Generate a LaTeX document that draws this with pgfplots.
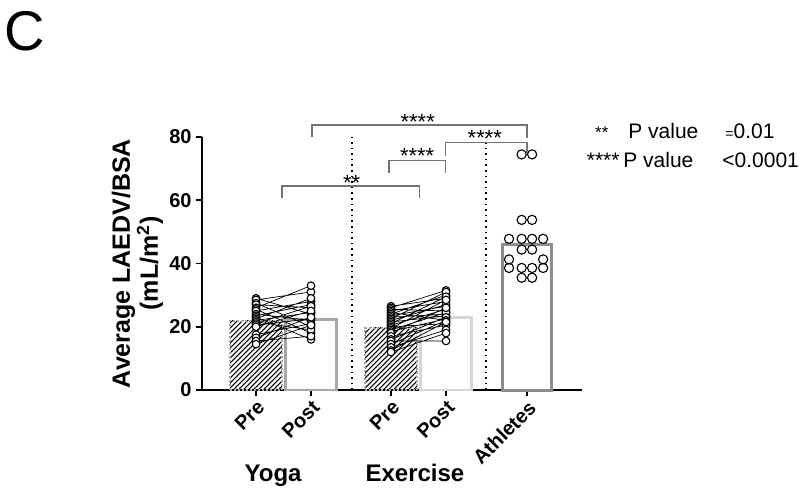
\documentclass[border=0pt]{standalone}
\usepackage{fontspec}
\setmainfont{Liberation Sans}
\usepackage{pgfplots}
\pgfplotsset{compat=1.18}
\definecolor{brk}{gray}{0.45}
\definecolor{ypost}{gray}{0.66}
\definecolor{epost}{gray}{0.84}
\definecolor{athl}{gray}{0.55}
\definecolor{hatchb}{gray}{0.65}
\begin{document}
\begin{tikzpicture}
\useasboundingbox (-101pt,-52pt) rectangle (299pt,195pt);
\begin{axis}[
  scale only axis, width=190pt, height=126.5pt,
  xmin=0.018, xmax=6.927, ymin=0, ymax=80,
  clip=false,
  axis lines*=left, axis line style={-, line width=1pt, black},
  tick align=outside, major tick length=3pt,
  tick style={black, line width=0.9pt},
  xtick={1,2,3.4545,4.4545,5.927},
  xticklabels={Pre,Post,Pre,Post,Athletes},
  ytick={0,20,40,60,80},
  /pgf/number format/assume math mode=true,
  xticklabel style={rotate=45, anchor=north east, font=\bfseries\fontsize{10}{11}\selectfont, inner sep=1pt},
  yticklabel style={font=\bfseries\fontsize{10}{11}\selectfont, inner sep=2pt},
  ylabel={Average LAEDV/BSA\\(mL/m\textsuperscript{2})},
  ylabel style={at={(axis description cs:-0.17,0.5)}, anchor=center, align=center, font=\bfseries\fontsize{12.5}{14}\selectfont},
]
% hatched bars (Pre)
\begin{scope}
\clip (axis cs:0.53,0) rectangle (axis cs:1.47,21.9);
\pgfplotsinvokeforeach{0,...,26}{\draw[line width=0.5pt, black] ([xshift=#1*2.5pt-36pt]axis cs:0.53,0) -- ++(48pt,48pt);}
\end{scope}
\begin{scope}
\clip (axis cs:2.9845,0) rectangle (axis cs:3.9245,19.7);
\pgfplotsinvokeforeach{0,...,26}{\draw[line width=0.5pt, black] ([xshift=#1*2.5pt-36pt]axis cs:2.9845,0) -- ++(48pt,48pt);}
\end{scope}
\addplot[ybar, bar width=0.94, bar shift=0pt, draw=hatchb, densely dotted, line width=1pt, fill=none]
  coordinates {(1,21.9)};
\addplot[ybar, bar width=0.94, bar shift=0pt, draw=ypost, fill=white, line width=1.4pt]
  coordinates {(2,22.4)};
\addplot[ybar, bar width=0.94, bar shift=0pt, draw=hatchb, densely dotted, line width=1pt, fill=none]
  coordinates {(3.4545,19.7)};
\addplot[ybar, bar width=0.94, bar shift=0pt, draw=epost, fill=white, line width=1.4pt]
  coordinates {(4.4545,23)};
\addplot[ybar, bar width=0.9, bar shift=0pt, draw=athl, fill=white, line width=1.5pt]
  coordinates {(5.927,46)};
% dotted separators
\addplot[black, dotted, line width=0.8pt] coordinates {(2.74,0) (2.74,80)};
\addplot[black, dotted, line width=0.8pt] coordinates {(5.18,0) (5.18,80)};
% yoga pairs
\addplot[black, line width=0.35pt, unbounded coords=jump, mark=*, mark size=1.9pt,
  mark options={fill=white, draw=black, line width=0.55pt, solid}]
  coordinates {
  (1,29)(2,24) (nan,nan)
  (1,28.5)(2,31) (nan,nan)
  (1,27.5)(2,20) (nan,nan)
  (1,27)(2,26) (nan,nan)
  (1,26)(2,33) (nan,nan)
  (1,25.5)(2,18) (nan,nan)
  (1,25)(2,28) (nan,nan)
  (1,24)(2,22) (nan,nan)
  (1,23.5)(2,27) (nan,nan)
  (1,23)(2,16) (nan,nan)
  (1,22.5)(2,29) (nan,nan)
  (1,22)(2,24.5) (nan,nan)
  (1,21.5)(2,19) (nan,nan)
  (1,21)(2,26.5) (nan,nan)
  (1,20.5)(2,22.5) (nan,nan)
  (1,20)(2,25) (nan,nan)
  (1,17.5)(2,21) (nan,nan)
  (1,16.5)(2,23) (nan,nan)
  (1,15.5)(2,17) (nan,nan)
  (1,14.5)(2,20.5)
  };
% exercise pairs
\addplot[black, line width=0.35pt, unbounded coords=jump, mark=*, mark size=1.9pt,
  mark options={fill=white, draw=black, line width=0.55pt, solid}]
  coordinates {
  (3.4545,26.5)(4.4545,29) (nan,nan)
  (3.4545,26)(4.4545,31.5) (nan,nan)
  (3.4545,25.5)(4.4545,25) (nan,nan)
  (3.4545,25)(4.4545,28) (nan,nan)
  (3.4545,24.5)(4.4545,22) (nan,nan)
  (3.4545,24)(4.4545,30) (nan,nan)
  (3.4545,23.5)(4.4545,26.5) (nan,nan)
  (3.4545,23)(4.4545,24) (nan,nan)
  (3.4545,22.5)(4.4545,31) (nan,nan)
  (3.4545,22)(4.4545,27) (nan,nan)
  (3.4545,21.5)(4.4545,23.5) (nan,nan)
  (3.4545,21)(4.4545,29.5) (nan,nan)
  (3.4545,20.5)(4.4545,25.5) (nan,nan)
  (3.4545,20)(4.4545,21) (nan,nan)
  (3.4545,19.5)(4.4545,28.5) (nan,nan)
  (3.4545,19)(4.4545,24.5) (nan,nan)
  (3.4545,18.5)(4.4545,22.5) (nan,nan)
  (3.4545,18)(4.4545,26) (nan,nan)
  (3.4545,17)(4.4545,20.5) (nan,nan)
  (3.4545,16)(4.4545,23) (nan,nan)
  (3.4545,15.5)(4.4545,15.5) (nan,nan)
  (3.4545,14.5)(4.4545,22) (nan,nan)
  (3.4545,13.5)(4.4545,19) (nan,nan)
  (3.4545,12.5)(4.4545,21.5) (nan,nan)
  (3.4545,12)(4.4545,18)
  };
% athletes
\addplot[only marks, mark=o, mark size=2.3pt, mark options={black, line width=0.55pt}]
  coordinates {
  (5.83,74.5)(6.02,74.5)
  (5.83,53.8)(6.02,53.8)
  (5.60,47.8)(5.83,47.8)(6.02,47.8)(6.22,47.8)
  (5.83,44.4)(6.02,44.4)
  (5.60,41.3)(6.22,41.3)
  (5.60,38.6)(5.83,38.6)(6.02,38.6)(6.22,38.6)
  (5.83,35.5)(6.02,35.5)
  };
% significance brackets
\addplot[brk, line width=0.7pt] coordinates {(2.02,80) (2.02,83.8) (5.93,83.8) (5.93,79.7)};
\addplot[brk, line width=0.7pt] coordinates {(4.45,74.1) (4.45,78.3) (5.93,78.3) (5.93,74.8)};
\addplot[brk, line width=0.7pt] coordinates {(3.42,68.7) (3.42,72.5) (4.45,72.5) (4.45,68.7)};
\addplot[brk, line width=0.7pt] coordinates {(1.47,60.6) (1.47,64.5) (3.97,64.5) (3.97,60.6)};
\node[anchor=base, inner sep=0pt, font=\fontsize{11}{12}\selectfont] at (axis cs:3.94,82.5) {****};
\node[anchor=base, inner sep=0pt, font=\fontsize{11}{12}\selectfont] at (axis cs:5.16,77.3) {****};
\node[anchor=base, inner sep=0pt, font=\fontsize{11}{12}\selectfont] at (axis cs:3.93,71.5) {****};
\node[anchor=base, inner sep=0pt, font=\fontsize{11}{12}\selectfont] at (axis cs:2.74,63.2) {**};
% group labels
\node[anchor=base, inner sep=0pt, font=\bfseries\fontsize{12}{14}\selectfont] at (axis cs:1.31,-28.8) {Yoga};
\node[anchor=base, inner sep=0pt, font=\bfseries\fontsize{12}{14}\selectfont] at (axis cs:3.89,-28.8) {Exercise};
\end{axis}
% panel letter and legend text
\node[anchor=base west, inner sep=0pt, font=\fontsize{28}{32}\selectfont] at (-99pt,170pt) {C};
\node[anchor=base, inner sep=0pt, font=\fontsize{8.5}{10}\selectfont] at (199.9pt,125.5pt) {**};
\node[anchor=base west, inner sep=0pt, font=\fontsize{10.5}{12}\selectfont] at (213pt,125.5pt) {P value};
\node[anchor=base west, inner sep=0pt, font=\fontsize{10.5}{12}\selectfont] at (261.5pt,125.5pt) {{\fontsize{7}{8}\selectfont=}0.01};
\node[anchor=base east, inner sep=0pt, font=\fontsize{10.5}{12}\selectfont] at (209pt,111pt) {****};
\node[anchor=base west, inner sep=0pt, font=\fontsize{10.5}{12}\selectfont] at (210.5pt,111pt) {P value};
\node[anchor=base west, inner sep=0pt, font=\fontsize{10.5}{12}\selectfont] at (260pt,111pt) {<0.0001};
\end{tikzpicture}
\end{document}
